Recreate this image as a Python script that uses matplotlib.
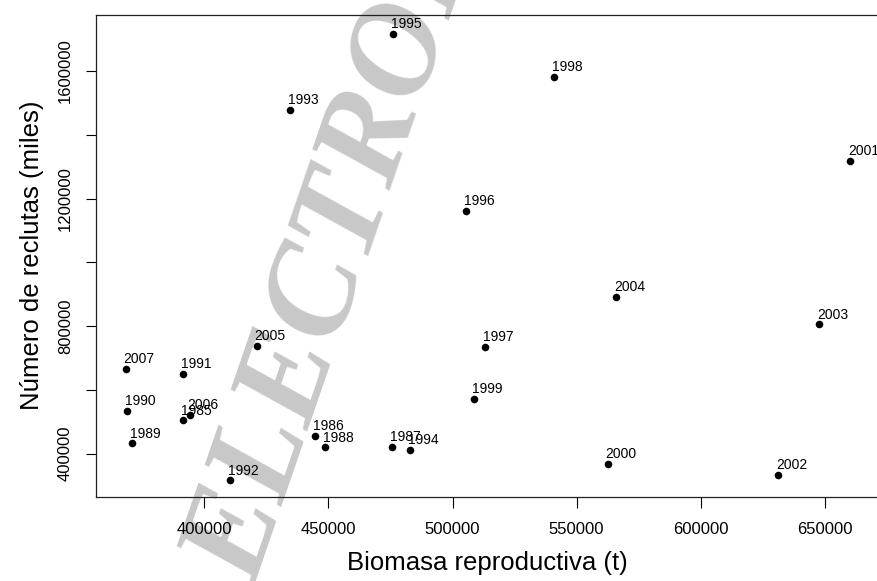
import matplotlib
matplotlib.use("Agg")
import matplotlib.pyplot as plt

years = [1985, 1986, 1987, 1988, 1989, 1990, 1991, 1992, 1993, 1994, 1995, 1996,
         1997, 1998, 1999, 2000, 2001, 2002, 2003, 2004, 2005, 2006, 2007]
biomasa = [391500, 444600, 475600, 448600, 370900, 368700, 391500, 410200, 434400, 482800,
           476000, 505400, 513100, 540900, 508600, 562500, 660200, 631200, 647700, 565900,
           421100, 394100, 368300]
reclutas = [504300, 456000, 421400, 419600, 432100, 534400, 650400, 316000, 1478600, 412000,
            1717000, 1161800, 735100, 1581200, 572000, 367200, 1318600, 332700, 805400, 892000,
            738300, 520900, 666100]

x_ticks = [400000, 450000, 500000, 550000, 600000, 650000]
y_ticks = [400000, 600000, 800000, 1000000, 1200000, 1400000, 1600000]
y_ticklabels = ["400000", "", "800000", "", "1200000", "", "1600000"]

plt.rcParams['font.family'] = ['Liberation Sans', 'DejaVu Sans']

W, H = 877, 581
fig = plt.figure(figsize=(W / 100, H / 100), dpi=100)
left, right, top, bottom = 96, 879, 14.7, 496.7
ax = fig.add_axes([left / W, (H - bottom) / H, (right - left) / W, (bottom - top) / H])

# watermark
ax.text(255 / W, (H - 588) / H, "ELECTRONIC", transform=fig.transFigure, clip_on=False,
        rotation=71, rotation_mode='anchor', ha='left', va='baseline',
        fontsize=94, family='Liberation Serif', style='italic', weight='bold',
        color='#c8c8c8', zorder=0.5)

ax.scatter(biomasa, reclutas, s=30, color='black', zorder=3, linewidths=0)
for yr, xv, yv in zip(years, biomasa, reclutas):
    ax.annotate(str(yr), (xv, yv), xytext=(-1.5, 4), textcoords='offset points',
                ha='left', va='baseline', fontsize=10, color='black', zorder=4)

ax.set_xlim(356300, 671900)
ax.set_ylim(264600, 1776600)
ax.set_xticks(x_ticks)
ax.set_xticklabels([str(v) for v in x_ticks])
ax.set_yticks(y_ticks)
ax.set_yticklabels(y_ticklabels, rotation=90, va='center')
ax.tick_params(axis='x', length=8, width=0.8, pad=10, labelsize=12)
ax.tick_params(axis='y', length=7.5, width=0.8, pad=9, labelsize=12)
for sp in ax.spines.values():
    sp.set_linewidth(0.9)
    sp.set_color('#222222')

ax.set_xlabel("Biomasa reproductiva (t)", fontsize=18.5, labelpad=10)
ax.set_ylabel("Número de reclutas (miles)", fontsize=18.5, labelpad=10)

fig.savefig("out.png", dpi=100)
